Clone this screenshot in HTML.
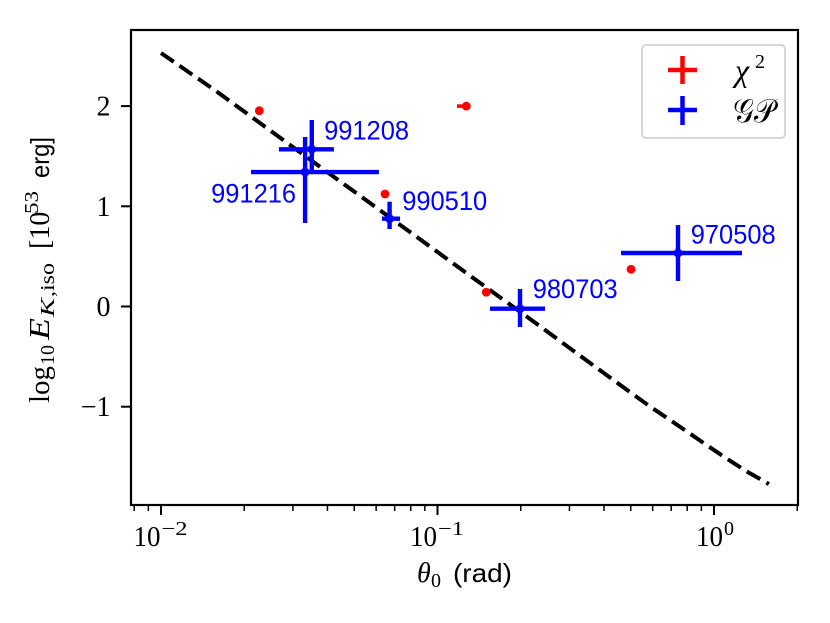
<!DOCTYPE html>
<html lang="en">
<head>
<meta charset="utf-8">
<title>Kinetic energy versus jet opening angle</title>
<style>
html,body{margin:0;padding:0;background:#fff;width:830px;height:623px;overflow:hidden}
svg{display:block}
.serif{font-family:"Liberation Serif",serif;fill:#000}
.sans{font-family:"Liberation Sans",sans-serif;fill:#000}
.grb{font-family:"Liberation Sans",sans-serif;font-size:27px;fill:#0000ff}
</style>
</head>
<body>
<svg id="chart" xmlns="http://www.w3.org/2000/svg" width="830" height="623" viewBox="0 0 830 623">
  <rect x="131" y="30" width="667" height="475" fill="#fff"/>
  <g id="marks"></g>
  <g id="ticks"></g>
  <rect x="131" y="30" width="667" height="475" fill="none" stroke="#000" stroke-width="2.2"/>

  <g>
    <text class="serif" x="417" y="582" font-size="28" font-style="italic">θ</text>
    <text class="serif" x="431" y="587" font-size="20">0</text>
    <text class="sans" x="453" y="582" font-size="26" textLength="59" lengthAdjust="spacingAndGlyphs">(rad)</text>
  </g>

  <g transform="translate(49,403) rotate(-90)">
    <text class="serif" x="0" y="0" font-size="28" textLength="37" lengthAdjust="spacingAndGlyphs">log</text>
    <text class="serif" x="38" y="5" font-size="20">10</text>
    <text class="serif" x="63" y="0" font-size="28" font-style="italic" textLength="22" lengthAdjust="spacingAndGlyphs">E</text>
    <text class="serif" x="86" y="5" font-size="20" font-style="italic" textLength="19" lengthAdjust="spacingAndGlyphs">K</text>
    <text class="serif" x="106" y="5" font-size="20" textLength="34" lengthAdjust="spacingAndGlyphs">,iso</text>
    <text class="serif" x="154" y="0" font-size="28">[10</text>
    <text class="serif" x="189" y="-11" font-size="20" textLength="23" lengthAdjust="spacingAndGlyphs">53</text>
    <text class="sans" x="225" y="0" font-size="26" textLength="41" lengthAdjust="spacingAndGlyphs">erg]</text>
  </g>

  <g>
    <rect x="642" y="45" width="143" height="93" rx="4" fill="#fff" fill-opacity="0.8" stroke="#d6d6d6" stroke-width="2"/>
    <g>
      <path d="M668 70H697M682.500 56V84" stroke="#ff0000" stroke-width="4.500" fill="none"/>
      <text class="serif" x="735" y="81" font-size="32" font-style="italic">χ</text>
      <text class="serif" x="755" y="68" font-size="20">2</text>
    </g>
    <g>
      <path d="M668 110H697M682.500 96V125" stroke="#0000ff" stroke-width="4.500" fill="none"/>
      <text class="serif" x="733" y="122" font-size="33" textLength="42" lengthAdjust="spacingAndGlyphs">𝒢𝒫</text>
    </g>
  </g>
</svg>

<script>
// Dashed relation
const lineTheta = [0.01, 0.0159, 0.031, 0.0807, 0.1386, 0.1988, 0.2315, 0.371, 0.588, 0.688, 0.951, 1.11, 1.305, 1.51, 1.58];
const lineLogE = [2.53, 2.146, 1.562, 0.7305, 0.2595, -0.052, -0.1846, -0.6, -1.0, -1.126, -1.392, -1.517, -1.642, -1.741, -1.772];

// Chi-squared fits (red)
const redTheta = [0.02268, 0.0646, 0.1271, 0.1501, 0.501];
const redThetaLow = [0.02268, 0.0646, 0.1176, 0.1501, 0.501];
const redThetaHigh = [0.02268, 0.0646, 0.1271, 0.1501, 0.501];
const redLogE = [1.954, 1.123, 2.0, 0.142, 0.371];

// Gaussian-process fits (blue)
const grbNames = ['991208', '991216', '990510', '980703', '970508'];
const blueTheta = [0.0351, 0.0332, 0.0671, 0.1988, 0.741];
const blueThetaLow = [0.0267, 0.02116, 0.0630, 0.1548, 0.461];
const blueThetaHigh = [0.0422, 0.0614, 0.0732, 0.2448, 1.263];
const blueLogE = [1.569, 1.342, 0.876, -0.022, 0.534];
const blueLogELow = [1.36, 0.833, 0.773, -0.205, 0.254];
const blueLogEHigh = [1.861, 1.691, 1.046, 0.175, 0.813];

// Ticks
const xMajorTicks = [0.01, 0.1, 1];
const xMajorExponents = ['−2', '−1', '0'];
const xMinorTicks = [0.008, 0.009, 0.02, 0.03, 0.04, 0.05, 0.06, 0.07, 0.08, 0.09, 0.2, 0.3, 0.4, 0.5, 0.6, 0.7, 0.8, 0.9, 2];
const yTicks = [-1, 0, 1, 2];
const yTickLabels = ['−1', '0', '1', '2'];

const NS = 'http://www.w3.org/2000/svg';
const marks = document.getElementById('marks');
const ticks = document.getElementById('ticks');
const xAxis = v => 437.5 + (Math.log10(v) + 1) * 276.5;
const yAxis = v => 306.5 - v * 100.2;

function make(tag, parent, attrs) {
  const el = document.createElementNS(NS, tag);
  for (const k in attrs) el.setAttribute(k, attrs[k]);
  parent.appendChild(el);
  return el;
}

// Dashed line
const linePath = make('polyline', marks, {
  points: lineTheta.map((t, i) => xAxis(t).toFixed(2) + ',' + yAxis(lineLogE[i]).toFixed(2)).join(' '),
  fill: 'none', stroke: '#000', 'stroke-width': 4, 'stroke-dasharray': '15.5 7', 'stroke-linejoin': 'round'
});



// Red points
redTheta.forEach((t, i) => {
  const g = make('g', marks, {});
  
  
  const y = yAxis(redLogE[i]);
  make('line', g, { x1: xAxis(redThetaLow[i]), x2: xAxis(redThetaHigh[i]), y1: y, y2: y, stroke: '#ff0000', 'stroke-width': 3.5 });
  make('circle', g, { cx: xAxis(t), cy: y, r: 4.4, fill: '#ff0000' });
});

// Blue points
blueTheta.forEach((t, i) => {
  const g = make('g', marks, {});
  
  
  const x = xAxis(t), y = yAxis(blueLogE[i]);
  make('line', g, { x1: xAxis(blueThetaLow[i]), x2: xAxis(blueThetaHigh[i]), y1: y, y2: y, stroke: '#0000ff', 'stroke-width': 4.4 });
  make('line', g, { x1: x, x2: x, y1: yAxis(blueLogELow[i]), y2: yAxis(blueLogEHigh[i]), stroke: '#0000ff', 'stroke-width': 4.4 });
  make('circle', g, { cx: x, cy: y, r: 4.4, fill: '#0000ff' });
});

// GRB labels
const labelDx = [12.3, -94, 12.6, 12.7, 12.7];
const labelDy = [-10, 30.7, -8.7, -10.7, -9.7];
grbNames.forEach((name, i) => {
  const label = make('text', marks, { class: 'grb', x: xAxis(blueTheta[i]) + labelDx[i], y: yAxis(blueLogE[i]) + labelDy[i], textLength: 85, lengthAdjust: 'spacingAndGlyphs' });
  
  
  label.textContent = name;
});

// X ticks
xMajorTicks.forEach((v, i) => {
  const x = xAxis(v);
  const tick = make('line', ticks, { x1: x, x2: x, y1: 505, y2: 515, stroke: '#000', 'stroke-width': 2 });
  
  
  const negative = xMajorExponents[i].length > 1;
  const left = x - (negative ? 27.5 : 18);
  const base = make('text', ticks, { class: 'serif', x: left, y: 546, 'font-size': 28, textLength: 27, lengthAdjust: 'spacingAndGlyphs' });
  
  
  base.textContent = '10';
  const exp = make('text', ticks, { class: 'serif', x: left + 28, y: 535, 'font-size': 20 });
  if (negative) {
    exp.setAttribute('textLength', 26);
    exp.setAttribute('lengthAdjust', 'spacingAndGlyphs');
  }
  
  
  exp.textContent = xMajorExponents[i];
});
xMinorTicks.forEach(v => {
  const x = xAxis(v);
  const tick = make('line', ticks, { x1: x, x2: x, y1: 505, y2: 511, stroke: '#000', 'stroke-width': 1.5 });
  
  
});

// Y ticks
yTicks.forEach((v, i) => {
  const y = yAxis(v);
  const tick = make('line', ticks, { x1: 121, x2: 131, y1: y, y2: y, stroke: '#000', 'stroke-width': 2 });
  
  
  const label = make('text', ticks, { class: 'serif', x: 110.5, y: y + 9.5, 'font-size': 28, 'text-anchor': 'end' });
  
  
  label.textContent = yTickLabels[i];
});
</script>
</body>
</html>
